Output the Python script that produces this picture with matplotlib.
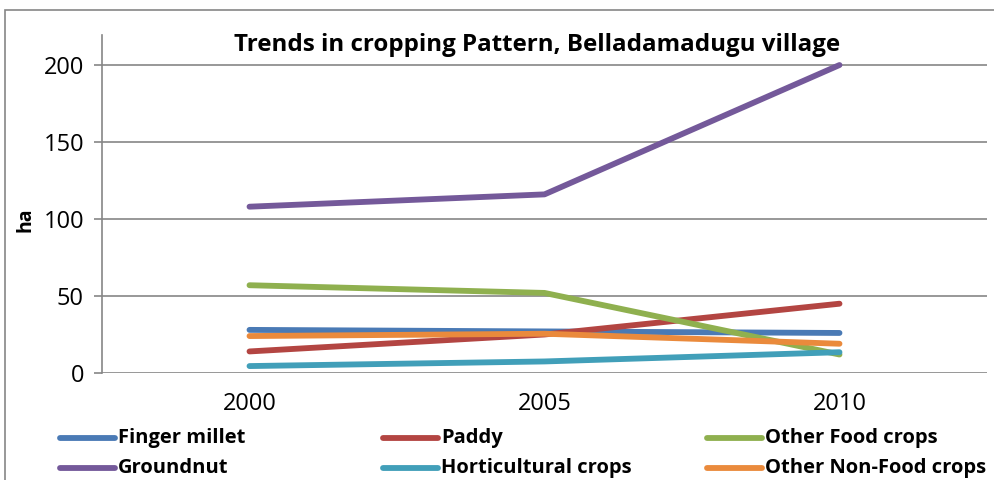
import matplotlib.pyplot as plt
from matplotlib.lines import Line2D
from matplotlib.patches import Rectangle

plt.rcParams['font.family'] = ['Open Sans', 'DejaVu Sans']

years = ["2000", "2005", "2010"]
finger_millet = [28, 27, 26]
paddy = [14, 25, 45]
other_food = [57, 52, 12]
groundnut = [108, 116, 200]
horticultural = [4.5, 7.5, 13.5]
other_non_food = [24, 25.5, 19]

series = [
    ("Finger millet", finger_millet, "#4a7ab5"),
    ("Paddy", paddy, "#b34542"),
    ("Other Food crops", other_food, "#8fb04f"),
    ("Groundnut", groundnut, "#74599a"),
    ("Horticultural crops", horticultural, "#419fb9"),
    ("Other Non-Food crops", other_non_food, "#ea8a3c"),
]

fig = plt.figure(figsize=(9.95, 4.8), dpi=100)
ax = fig.add_axes([102 / 995, 1 - 373 / 480, 885 / 995, 338 / 480])

x = range(len(years))
for name, vals, col in series:
    ax.plot(x, vals, color=col, lw=4.2, solid_capstyle="round", solid_joinstyle="round", zorder=3)

ax.set_xlim(-0.5, 2.5)
ax.set_ylim(0, 219.5)
ax.set_yticks([0, 50, 100, 150, 200])
ax.set_xticks(list(x))
ax.set_xticklabels(years)
ax.grid(axis="y", color="#868686", lw=1.2)
ax.set_axisbelow(True)
for s in ["top", "right", "bottom"]:
    ax.spines[s].set_visible(False)
ax.spines["left"].set_color("#868686")
ax.spines["left"].set_linewidth(1.2)
ax.tick_params(axis="y", length=6, color="#868686", width=1.2, labelsize=17, pad=7)
ax.tick_params(axis="x", length=0, labelsize=17, pad=14)

fig.text(25 / 995, 1 - 220 / 480, "ha", rotation=90, ha="center", va="center",
         fontsize=14, fontweight="bold")
fig.text(537 / 995, 1 - 45 / 480, "Trends in cropping Pattern, Belladamadugu village",
         ha="center", va="center", fontsize=17.4, fontweight="bold")

# legend, laid out like the Excel one (3 equal columns, 2 rows)
col_x = [60, 383, 707]
row_y = [438, 468]
for i, (name, vals, col) in enumerate(series):
    cx = col_x[i % 3]
    cy = row_y[i // 3]
    fig.add_artist(Line2D([cx / 995, (cx + 55) / 995], [1 - cy / 480, 1 - cy / 480],
                          color=col, lw=4.2, solid_capstyle="round", transform=fig.transFigure))
    fig.text((cx + 58) / 995, 1 - cy / 480, name, ha="left", va="center",
             fontsize=14.5, fontweight="bold")

# outer chart border
fig.add_artist(Rectangle((5 / 995, -0.1), 1.2, 1 - 10 / 480 + 0.1, transform=fig.transFigure,
                         fill=False, edgecolor="#868686", lw=1.2))

fig.savefig("out.png", dpi=100)
